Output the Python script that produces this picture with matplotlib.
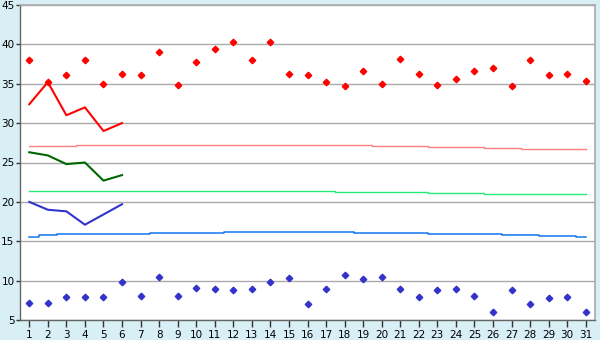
import matplotlib
matplotlib.use("Agg")
import matplotlib.pyplot as plt

days = list(range(1, 32))
high_pts = [38.0, 35.2, 36.1, 38.0, 35.0, 36.3, 36.1, 39.0, 34.9, 37.8,
            39.4, 40.3, 38.0, 40.3, 36.3, 36.1, 35.2, 34.7, 36.6, 35.0,
            38.1, 36.2, 34.8, 35.6, 36.6, 37.0, 34.7, 38.0, 36.1, 36.2, 35.4]
low_pts = [7.2, 7.2, 7.9, 7.9, 7.9, 9.8, 8.0, 10.5, 8.0, 9.1,
           9.0, 8.8, 9.0, 9.8, 10.3, 7.0, 9.0, 10.7, 10.2, 10.4,
           8.9, 7.9, 8.8, 8.9, 8.0, 6.0, 8.8, 7.0, 7.8, 7.9, 6.0]
line_days = [1, 2, 3, 4, 5, 6]
red_line = [32.4, 35.2, 31.0, 32.0, 29.0, 30.0]
green_line = [26.3, 25.9, 24.8, 25.0, 22.7, 23.4]
blue_line = [20.0, 19.0, 18.8, 17.1, 18.4, 19.7]
norm_high = [27.1, 27.1, 27.1] + [27.2] * 16 + [27.1] * 3 + [27.0] * 3 + [26.85] * 2 + [26.7] * 4
norm_mean = [21.4] * 17 + [21.25] * 5 + [21.1] * 3 + [21.0] * 6
norm_low = [15.6, 15.75] + [15.9] * 5 + [16.05] * 4 + [16.2] * 7 + [16.05] * 4 + [15.9] * 4 + [15.8] * 2 + [15.65] * 2 + [15.5]

yticks = [5, 10, 15, 20, 25, 30, 35, 40, 45]

bg = "#D9EFF6"
fig = plt.figure(figsize=(6, 3.4), dpi=100, facecolor=bg)
ax = fig.add_axes([20 / 600, 20 / 340, 575 / 600, 315 / 340])
ax.set_facecolor("white")

for y in yticks:
    ax.axhline(y, color="#AAAAAA", lw=1.0, zorder=1)

ax.plot(days, norm_high, drawstyle="steps-mid", color="#FF8080", lw=1.0, zorder=2)
ax.plot(days, norm_mean, drawstyle="steps-mid", color="#22EE77", lw=1.0, zorder=2)
ax.plot(days, norm_low, drawstyle="steps-mid", color="#1177EE", lw=1.1, zorder=2)

ax.plot(line_days, red_line, color="#FF0000", lw=1.5, zorder=3)
ax.plot(line_days, green_line, color="#006600", lw=1.5, zorder=3)
ax.plot(line_days, blue_line, color="#3333CC", lw=1.5, zorder=3)

ax.plot(days, high_pts, linestyle="none", marker="D", markersize=3.3, color="#FF0000", zorder=4)
ax.plot(days, low_pts, linestyle="none", marker="D", markersize=3.3, color="#3333CC", zorder=4)

ax.set_xlim(0.5, 31.5)
ax.set_ylim(5, 45)
ax.set_xticks(days)
ax.set_xticklabels([str(d) for d in days])
ax.set_yticks(yticks)
ax.tick_params(axis="x", length=5, width=1, color="#333333", labelsize=7.5, pad=2)
ax.tick_params(axis="y", length=3, width=1, color="#333333", labelsize=7.5, pad=1)

for side in ["top", "right"]:
    ax.spines[side].set_color("#AAAAAA")
    ax.spines[side].set_linewidth(1.2)
for side in ["left", "bottom"]:
    ax.spines[side].set_color("#666666")
    ax.spines[side].set_linewidth(1.0)

fig.savefig("out.png", dpi=100, facecolor=bg)
